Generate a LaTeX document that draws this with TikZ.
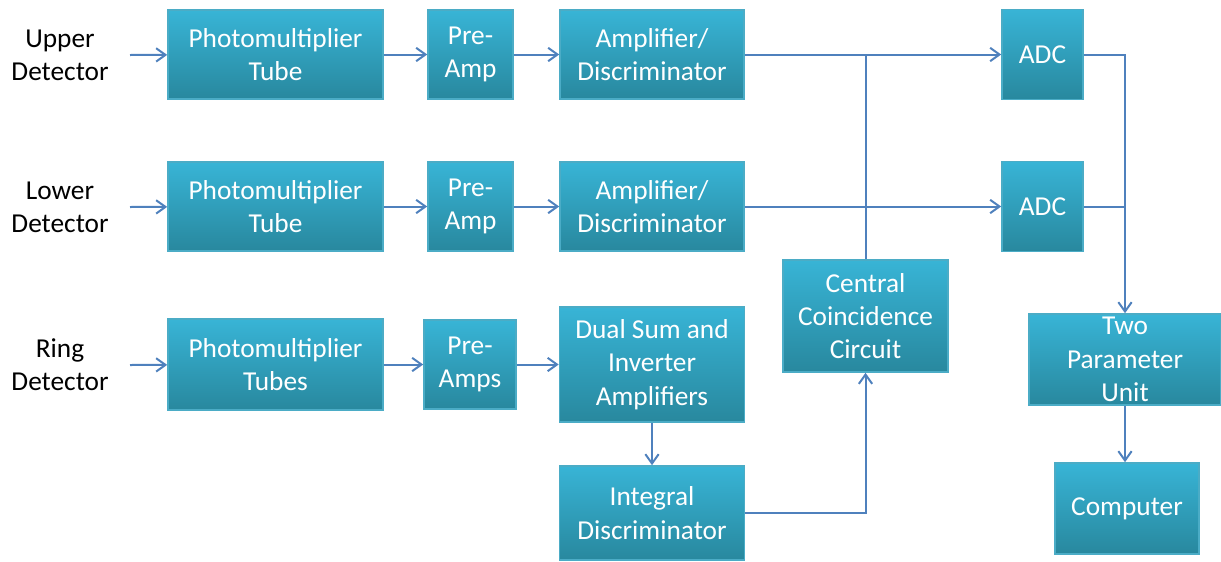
\documentclass[tikz,border=0pt]{standalone}
\usepackage{fontspec}
\setmainfont{Carlito}
\usetikzlibrary{arrows.meta}
\definecolor{boxtop}{RGB}{56,180,214}
\definecolor{boxbot}{RGB}{40,136,158}
\definecolor{boxedge}{RGB}{75,172,198}
\definecolor{wireblue}{RGB}{79,129,189}
\begin{document}
\begin{tikzpicture}[x=0.75pt,y=-0.75pt,
  block/.style={draw=boxedge,line width=1.2pt,top color=boxtop,bottom color=boxbot,
    text=white,align=center,inner sep=0pt,font=\fontsize{20.5}{25}\selectfont},
  tag/.style={align=center,inner sep=0pt,font=\fontsize{20.5}{25}\selectfont},
  wire/.style={draw=wireblue,line width=1.5pt},
  arr/.style={wire,-{Straight Barb[length=7pt,width=10pt,line width=1.5pt]}}]
\useasboundingbox (0,0) rectangle (1221,561);
% detectors
\node[tag] (lblU) at (60,55) {Upper\\Detector};
\node[tag] (lblL) at (60,207) {Lower\\Detector};
\node[tag] (lblR) at (60,365) {Ring\\Detector};
% upper row
\node[block,minimum width=215*0.75pt,minimum height=89*0.75pt] (pmtU) at (275.5,54.5) {Photomultiplier\\Tube};
\node[block,minimum width=85*0.75pt,minimum height=89*0.75pt] (preU) at (470.5,54.5) {\strut Pre-\\Amp\strut};
\node[block,minimum width=184*0.75pt,minimum height=89*0.75pt] (ampU) at (652,54.5) {Amplifier/\\Discriminator};
\node[block,minimum width=81*0.75pt,minimum height=90*0.75pt] (adcU) at (1042.5,54.5) {ADC};
% lower row
\node[block,minimum width=215*0.75pt,minimum height=89*0.75pt] (pmtL) at (275.5,206.5) {Photomultiplier\\Tube};
\node[block,minimum width=85*0.75pt,minimum height=89*0.75pt] (preL) at (470.5,206.5) {\strut Pre-\\Amp\strut};
\node[block,minimum width=184*0.75pt,minimum height=89*0.75pt] (ampL) at (652,206.5) {Amplifier/\\Discriminator};
\node[block,minimum width=81*0.75pt,minimum height=90*0.75pt] (adcL) at (1042.5,206.5) {ADC};
% ring row
\node[block,minimum width=215*0.75pt,minimum height=91*0.75pt] (pmtR) at (275.5,364.5) {Photomultiplier\\Tubes};
\node[block,minimum width=92*0.75pt,minimum height=89*0.75pt] (preR) at (470,364.5) {\strut Pre-\\Amps\strut};
\node[block,minimum width=185*0.75pt,minimum height=115*0.75pt] (dual) at (652,364.5) {Dual Sum and\\Inverter\\Amplifiers};
\node[block,minimum width=185*0.75pt,minimum height=94*0.75pt] (integ) at (652,513) {Integral\\Discriminator};
% coincidence and readout
\node[block,minimum width=165*0.75pt,minimum height=112*0.75pt] (central) at (865.5,316) {Central\\Coincidence\\Circuit};
\node[block,minimum width=192*0.75pt,minimum height=91*0.75pt] (twop) at (1125,359.5) {Two\\Parameter\\Unit};
\node[block,minimum width=144*0.75pt,minimum height=91*0.75pt] (comp) at (1127,508.5) {Computer};
% connectors
\draw[arr] (lblU.east -| 130,0) -- (pmtU);
\draw[arr] (lblL.east -| 130,0) -- (pmtL);
\draw[arr] (lblR.east -| 130,0) -- (pmtR);
\draw[arr] (pmtU) -- (preU);
\draw[arr] (preU) -- (ampU);
\draw[arr] (ampU) -- (adcU);
\draw[arr] (pmtL) -- (preL);
\draw[arr] (preL) -- (ampL);
\draw[arr] (ampL) -- (adcL);
\draw[arr] (pmtR) -- (preR);
\draw[arr] (preR) -- (dual);
\draw[arr] (dual) -- (integ);
\draw[wire] (central.north) -- (central.north |- ampU.east);
\draw[arr] (integ.east) -| (central.south);
\draw[arr] (adcU.east) -| (twop.north);
\draw[wire] (adcL.east) -- (adcL.east -| twop.north);
\draw[arr] (twop.south) -- (twop.south |- comp.north);
\end{tikzpicture}
\end{document}
